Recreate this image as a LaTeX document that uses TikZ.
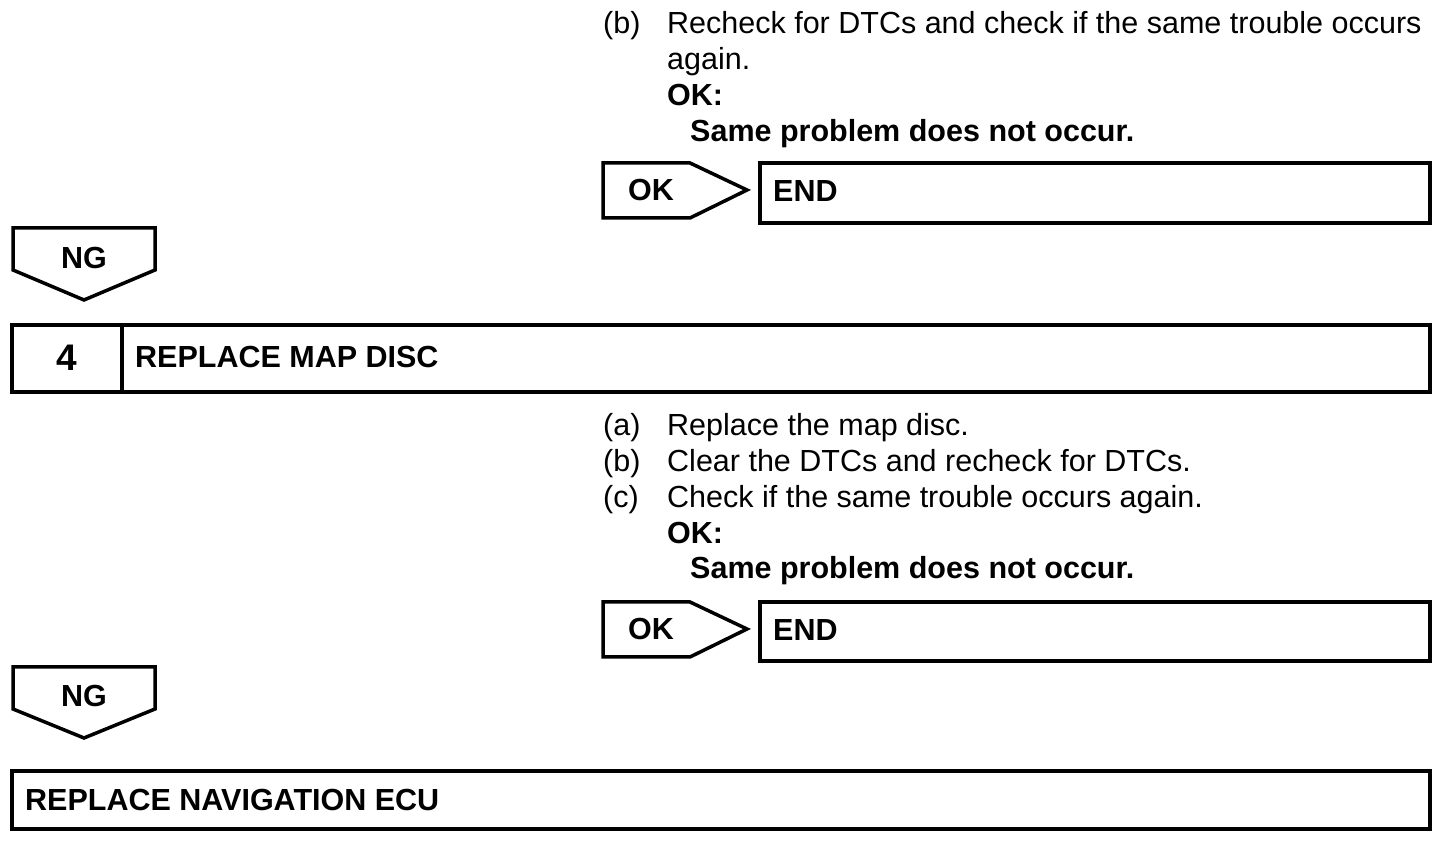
\documentclass[tikz,border=0pt]{standalone}
\usepackage{fontspec}
\setmainfont{Liberation Sans}
\usetikzlibrary{positioning}
\tikzset{
  frame/.style={line width=3.5bp, line join=miter},
  step text/.style={anchor=base west, inner sep=0pt, font=\fontsize{30.5bp}{36bp}\selectfont},
  bold text/.style={step text, font=\fontsize{30.5bp}{36bp}\selectfont\bfseries},
  tab text/.style={inner sep=0pt, font=\fontsize{30.5bp}{36bp}\selectfont\bfseries}
}
\begin{document}
\begin{tikzpicture}[x=1bp,y=1bp]
\useasboundingbox (0,0) rectangle (1456,846);
%% first check
  \node (b1lbl) at (603,812) [step text] {(b)};
  \node (b1txt) at (667,812) [step text] {Recheck for DTCs and check if the same trouble occurs};
  \node (b1more) at (667,776) [step text] {again.};
  \node (ok1) at (667,740) [bold text] {OK:};
  \node (same1) at (690,704) [bold text] {Same problem does not occur.};
%% OK -> END
  \draw [frame] (603,683) -- (690,683) -- (747,656) -- (690,628) -- (603,628) -- cycle;
  \node (oktab1) at (628,656) [tab text, anchor=west] {OK};
  \draw [frame] (760,623) rectangle (1430,683);
  \node (end1) at (773,655) [tab text, anchor=west] {END};
%% NG
  \draw [frame] (13,618) -- (155,618) -- (155,576) -- (84,546) -- (13,576) -- cycle;
  \node (ng1) at (84,588) [tab text] {NG};
%% step 4
  \draw [frame] (12,454) rectangle (1430,521);
  \draw [frame] (122,454) -- (122,521);
  \node (num4) at (67,488) [tab text, font=\fontsize{37bp}{40bp}\selectfont\bfseries] {4};
  \node (title4) at (135,489) [tab text, anchor=west] {REPLACE MAP DISC};
  \node (a2lbl) at (603,410) [step text] {(a)};
  \node (a2txt) at (667,410) [step text] {Replace the map disc.};
  \node (b2lbl) at (603,374) [step text] {(b)};
  \node (b2txt) at (667,374) [step text] {Clear the DTCs and recheck for DTCs.};
  \node (c2lbl) at (603,338) [step text] {(c)};
  \node (c2txt) at (667,338) [step text] {Check if the same trouble occurs again.};
  \node (ok2) at (667,302) [bold text] {OK:};
  \node (same2) at (690,267) [bold text] {Same problem does not occur.};
%% OK -> END
  \draw [frame] (603,244) -- (690,244) -- (747,217) -- (690,189) -- (603,189) -- cycle;
  \node (oktab2) at (628,217) [tab text, anchor=west] {OK};
  \draw [frame] (760,185) rectangle (1430,244);
  \node (end2) at (773,216) [tab text, anchor=west] {END};
%% NG
  \draw [frame] (13,179) -- (155,179) -- (155,137) -- (84,108) -- (13,137) -- cycle;
  \node (ng2) at (84,150) [tab text] {NG};
%% last step
  \draw [frame] (12,17) rectangle (1430,75);
  \node (navecu) at (25,46) [tab text, anchor=west] {REPLACE NAVIGATION ECU};
%
\end{tikzpicture}
\end{document}
